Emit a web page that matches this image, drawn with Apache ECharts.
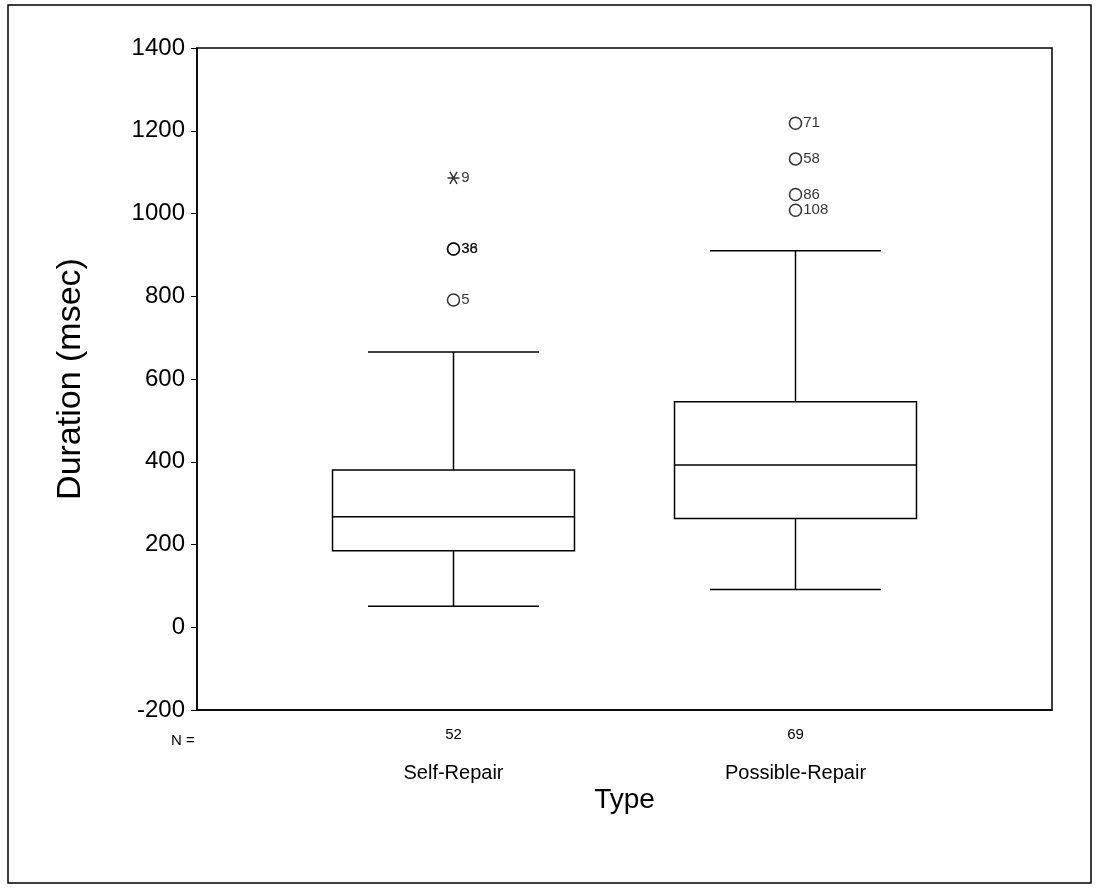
<html>

<head>
    <script src="https://cdn.jsdelivr.net/npm/echarts@6/dist/echarts.min.js"></script>

    <style>
        body {
            margin: 0;
            background: #fff;
        }
        #chart {
            width: 1098px;
            height: 891px;
        }
    </style>
</head>

<body>
    <div id="chart"></div>

    <script>
        // 5 slots on the x axis, the two groups sit at slot 1 and 3 (like the SPSS layout)
        const categories = ['', 'Self-Repair', '', 'Possible-Repair', ''];
        const groupSlot = [1, 3];
        const nCounts = [52, 69];

        const whiskerLow = [51, 91];
        const q1 = [185, 263];
        const median = [267, 392];
        const q3 = [380, 545];
        const whiskerHigh = [665, 910];

        // outliers (circles) and extremes (asterisk), with case numbers
        const outlierGroup = [0, 0, 0, 1, 1, 1, 1];
        const outlierValue = [914, 914, 791, 1218, 1132, 1046, 1008];
        const outlierCase = ['36', '38', '5', '71', '58', '86', '108'];

        const extremeGroup = [0];
        const extremeValue = [1086];
        const extremeCase = ['9'];

        const yTicks = { min: -200, max: 1400, step: 200 };

        const font = 'Liberation Sans, Arial, sans-serif';

        const chartDom = document.getElementById('chart');
        const myChart = echarts.init(chartDom);

        const boxData = groupSlot.map((slot, i) =>
            [slot, whiskerLow[i], q1[i], median[i], q3[i], whiskerHigh[i]]);

        const outlierData = outlierValue.map((v, i) => ({
            value: [groupSlot[outlierGroup[i]], v],
            label: { formatter: outlierCase[i] }
        }));
        const extremeData = extremeValue.map((v, i) => ({
            value: [groupSlot[extremeGroup[i]], v],
            label: { formatter: extremeCase[i] }
        }));

        const isGroupSlot = (index) => groupSlot.indexOf(index) >= 0;

        const pointLabel = {
            show: true,
            position: 'right',
            distance: 1,
            fontSize: 15,
            fontFamily: font,
            color: '#000'
        };

        const option = {
            backgroundColor: '#fff',
            animation: false,
            graphic: [
                {
                    type: 'rect',
                    shape: { x: 8, y: 5, width: 1083, height: 878 },
                    style: { fill: null, stroke: '#000', lineWidth: 1.5 }
                },
                {
                    type: 'text',
                    left: 171,
                    top: 728,
                    style: { text: 'N =', fontSize: 15, fontFamily: font, fill: '#000' }
                }
            ],
            grid: {
                left: 197,
                right: 46,
                top: 48,
                bottom: 181,
                show: true,
                borderColor: '#000',
                borderWidth: 1.5,
                backgroundColor: '#fff'
            },
            xAxis: {
                type: 'category',
                data: categories,
                name: 'Type',
                nameLocation: 'middle',
                nameGap: 66,
                nameMoveOverlap: false,
                nameTextStyle: { fontSize: 28, fontFamily: font, color: '#000', verticalAlign: 'top' },
                axisLine: { onZero: false, lineStyle: { color: '#000', width: 1.5 } },
                axisTick: {
                    alignWithLabel: true,
                    length: 5,
                    interval: (index) => isGroupSlot(index),
                    lineStyle: { color: '#000' }
                },
                axisLabel: {
                    interval: (index) => isGroupSlot(index),
                    margin: 15,
                    formatter: (value, index) => {
                        const g = groupSlot.indexOf(index);
                        if (g < 0) return '';
                        return `{n|${nCounts[g]}}\n{c|${value}}`;
                    },
                    rich: {
                        n: { fontSize: 15, lineHeight: 20, fontFamily: font, color: '#000' },
                        c: { fontSize: 20, lineHeight: 56, fontFamily: font, color: '#000' }
                    }
                },
                splitLine: { show: false }
            },
            yAxis: {
                type: 'value',
                min: yTicks.min,
                max: yTicks.max,
                interval: yTicks.step,
                name: 'Duration (msec)',
                nameLocation: 'middle',
                nameGap: 97,
                nameMoveOverlap: false,
                nameTextStyle: { fontSize: 34, fontFamily: font, color: '#000' },
                axisLine: { show: true, lineStyle: { color: '#000', width: 1.5 } },
                axisTick: { show: true, length: 6, lineStyle: { color: '#000' } },
                axisLabel: {
                    fontSize: 24,
                    fontFamily: font,
                    color: '#000',
                    margin: 12,
                    formatter: (v) => String(v)
                },
                splitLine: { show: false }
            },
            series: [
                {
                    type: 'custom',
                    data: boxData,
                    encode: { x: 0, y: [1, 2, 3, 4, 5] },
                    renderItem: (params, api) => {
                        const x = api.value(0);
                        const lo = api.coord([x, api.value(1)]);
                        const b1 = api.coord([x, api.value(2)]);
                        const md = api.coord([x, api.value(3)]);
                        const b3 = api.coord([x, api.value(4)]);
                        const hi = api.coord([x, api.value(5)]);
                        const band = api.size([1, 0])[0];
                        const bw = band * 1.415;
                        const cw = band * 1.0;
                        const cx = lo[0];
                        const st = { stroke: '#000', lineWidth: 1.5, fill: null };
                        return {
                            type: 'group',
                            children: [
                                { type: 'line', shape: { x1: cx, y1: hi[1], x2: cx, y2: b3[1] }, style: st },
                                { type: 'line', shape: { x1: cx, y1: b1[1], x2: cx, y2: lo[1] }, style: st },
                                { type: 'line', shape: { x1: cx - cw / 2, y1: hi[1], x2: cx + cw / 2, y2: hi[1] }, style: st },
                                { type: 'line', shape: { x1: cx - cw / 2, y1: lo[1], x2: cx + cw / 2, y2: lo[1] }, style: st },
                                {
                                    type: 'rect',
                                    shape: { x: cx - bw / 2, y: b3[1], width: bw, height: b1[1] - b3[1] },
                                    style: { stroke: '#000', lineWidth: 1.5, fill: '#fff' }
                                },
                                { type: 'line', shape: { x1: cx - bw / 2, y1: md[1], x2: cx + bw / 2, y2: md[1] }, style: st }
                            ]
                        };
                    }
                },
                {
                    type: 'scatter',
                    data: outlierData,
                    symbol: 'circle',
                    symbolSize: 12,
                    itemStyle: { color: 'rgba(0,0,0,0)', borderColor: '#000', borderWidth: 1.5 },
                    label: pointLabel
                },
                {
                    type: 'scatter',
                    data: extremeData,
                    symbol: 'path://M0,5 L10,5 M2,1 L8,9 M8,1 L2,9',
                    symbolSize: 12,
                    itemStyle: { color: 'rgba(0,0,0,0)', borderColor: '#000', borderWidth: 1.5 },
                    label: pointLabel
                }
            ]
        };

        myChart.setOption(option);
    </script>
</body>

</html>
